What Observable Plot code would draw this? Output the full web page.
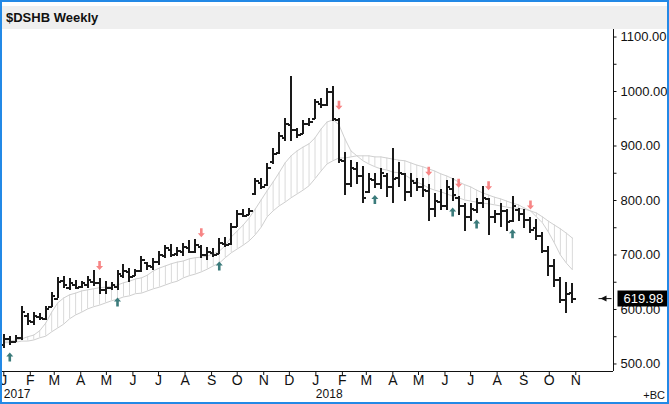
<!DOCTYPE html>
<html><head><meta charset="utf-8">
<script src="https://cdn.jsdelivr.net/npm/d3@7"></script>
<script src="https://cdn.jsdelivr.net/npm/@observablehq/plot@0.6"></script>
<style>
body{margin:0;background:#fff;}
#wrap{position:relative;width:669px;height:404px;overflow:hidden;background:#fff;font-family:"Liberation Sans",Arial,sans-serif;}
#title{position:absolute;left:2px;top:6px;width:665px;height:23px;background:#efefef;font-weight:bold;font-size:13px;line-height:23px;padding-left:4px;box-sizing:border-box;color:#111;}
#chart{position:absolute;left:0;top:29px;}
#bc{position:absolute;right:4px;top:389px;font-size:11px;color:#111;}
#border{position:absolute;left:0;top:0;width:669px;height:404px;border:2px solid #2389e6;box-sizing:border-box;pointer-events:none;}
</style></head><body>
<div id="wrap"><div id="title">$DSHB Weekly</div><div id="chart"></div><div id="bc">+BC</div><div id="border"></div></div>
<script>
const firstWeek = "2017-01-01";
const opens = [535,545,541,547,588,577,586,583,604,620,652,640,645,641,645,650,648,636,640,642,662,668,662,670,685,678,688,698,710,702,706,712,706,715,700,704,702,720,720,752,775,773,812,832,828,870,888,915,938,930,922,940,950,978,975,1000,948,872,830,858,845,815,838,830,845,825,842,848,815,832,825,818,785,798,790,822,805,790,770,782,795,803,770,775,780,762,782,775,765,750,735,708,680,655,618,630];
const highs = [555,551,553,606,592,594,592,606,631,658,661,656,654,652,660,671,657,652,650,671,682,676,674,698,687,693,707,717,720,713,722,726,728,717,713,711,730,733,757,781,783,786,840,840,867,895,924,951,1027,933,946,951,986,988,1006,1010,951,888,874,869,863,850,849,858,849,896,869,850,850,841,840,830,812,821,836,840,808,794,795,803,825,803,781,795,784,808,786,784,768,766,742,715,692,659,649,647];
const lows = [529,533,539,544,571,570,579,579,603,620,638,634,636,639,639,643,628,628,634,634,656,649,660,667,672,671,680,693,695,698,698,702,702,693,689,695,700,713,717,750,768,772,810,820,826,866,885,909,909,913,922,935,948,968,972,945,867,810,823,830,794,812,822,821,805,794,823,799,805,817,805,762,768,781,781,799,772,744,762,777,786,735,757,750,744,759,762,748,740,726,703,661,640,611,592,611];
const closes = [545,540,548,596,578,588,584,600,625,650,645,648,640,648,655,648,635,640,645,665,670,660,670,690,680,688,700,712,700,708,715,705,718,700,705,700,722,718,752,775,772,780,835,825,860,885,918,940,930,920,940,944,980,975,1000,950,875,830,860,845,805,840,830,850,825,840,850,815,835,825,820,785,800,790,825,810,790,770,785,795,805,770,775,780,760,790,775,765,745,735,708,680,655,618,628,619.98];
const fastBand = [542,542,544,546,550,553,561,575,595,612,621,627,630,634,636,638,640,641,643,645,649,652,656,658,663,671,676,680,684,687,689,693,695,696,698,702,707,717,733,744,755,768,784,801,818,834,851,869,882,891,898,904,915,931,944,948,939,913,891,882,873,867,862,858,856,852,851,847,840,834,829,823,819,816,812,808,805,801,799,797,795,794,792,790,788,786,786,784,781,770,759,742,722,700,685,673];
const slowBand = [539,539,540,542,542,544,548,551,559,566,573,583,590,595,601,605,608,612,616,619,623,625,629,630,634,638,641,645,649,652,658,662,665,669,674,680,685,695,704,711,718,726,737,751,770,781,790,797,805,812,819,827,840,854,867,873,878,878,880,882,882,882,880,880,878,876,874,873,869,865,862,858,854,849,845,840,834,829,825,819,814,810,806,803,799,795,792,786,781,777,770,762,755,748,740,731];
const upSignals = [1,19,36,62,75,79,85];
const downSignals = [16,33,56,71,76,81,88];
const yMajor = [500,600,700,800,900,1000,1100];
const yMinor = [550,650,750,850,950,1050];
const yDomain = [486.2, 1113.8];
const monthLetters = "JFMAMJJASOND";

const start = new Date(firstWeek + "T00:00:00Z");
const DAY = 864e5;
const xDomain = [new Date(+start - 1.52*DAY), new Date(+start + 713.1*DAY)];
const xmax = xDomain[1];

const data = closes.map((c, i) => ({
  date: d3.utcWeek.offset(start, i),
  open: opens[i], high: highs[i], low: lows[i], close: c,
  fast: fastBand[i], slow: slowBand[i]
}));
const last = data[data.length - 1];
const months = d3.utcMonth.range(new Date("2017-01-01T00:00:00Z"), new Date("2018-11-02T00:00:00Z"));
const years = [new Date("2017-01-01T00:00:00Z"), new Date("2018-01-01T00:00:00Z")];

const openTick = {draw(c){c.moveTo(-3.5,0);c.lineTo(0,0);}};
const closeTick = {draw(c){c.moveTo(0,0);c.lineTo(3.5,0);}};
const upArrow = {draw(c){c.moveTo(0,-4.5);c.lineTo(3.5,-0.5);c.lineTo(1.3,-0.5);c.lineTo(1.3,4.5);c.lineTo(-1.3,4.5);c.lineTo(-1.3,-0.5);c.lineTo(-3.5,-0.5);c.closePath();}};
const downArrow = {draw(c){c.moveTo(0,4.5);c.lineTo(3.5,0.5);c.lineTo(1.3,0.5);c.lineTo(1.3,-4.5);c.lineTo(-1.3,-4.5);c.lineTo(-1.3,0.5);c.lineTo(-3.5,0.5);c.closePath();}};
const axisTick = {draw(c){c.moveTo(0,0);c.lineTo(3,0);}};
const priceBox = {draw(c){c.rect(4,-8,56,16);}};
const pointerHead = {draw(c){c.moveTo(-13,0);c.lineTo(-7,-3);c.lineTo(-7,3);c.closePath();}};
const pointerLine = {draw(c){c.moveTo(-15,0);c.lineTo(-2,0);}};

const chart = Plot.plot({
  width: 669, height: 375,
  marginTop: 0, marginBottom: 33, marginLeft: 2, marginRight: 56,
  x: {type: "utc", domain: xDomain},
  y: {domain: yDomain},
  style: {fontFamily: "'Liberation Sans', Arial, sans-serif", color: "#111", background: "transparent"},
  marks: [
    Plot.ruleX(data, {x: "date", y1: "fast", y2: "slow", stroke: "#dadada", strokeWidth: 1}),
    Plot.line(data, {x: "date", y: "fast", stroke: "#cfcfcf", strokeWidth: 1}),
    Plot.line(data, {x: "date", y: "slow", stroke: "#cfcfcf", strokeWidth: 1}),
    Plot.ruleX(data, {x: "date", y1: "low", y2: "high", stroke: "#1a1a1a", strokeWidth: 2, shapeRendering: "crispEdges"}),
    Plot.dot(data, {x: "date", y: "open", symbol: openTick, fill: "none", stroke: "#1a1a1a", strokeWidth: 2, shapeRendering: "crispEdges"}),
    Plot.dot(data, {x: "date", y: "close", symbol: closeTick, fill: "none", stroke: "#1a1a1a", strokeWidth: 2, shapeRendering: "crispEdges"}),
    Plot.dot(upSignals.map(i => data[i]), {x: "date", y: "low", symbol: upArrow, fill: "#3b7b7b", stroke: "none", dy: 11}),
    Plot.dot(downSignals.map(i => data[i]), {x: "date", y: "high", symbol: downArrow, fill: "#f78585", stroke: "none", dy: -13}),
    Plot.ruleX([xmax], {stroke: "#111", strokeWidth: 1}),
    Plot.ruleY([yDomain[0]], {stroke: "#111", strokeWidth: 1}),
    Plot.dot(yMajor.concat(yMinor), {x: () => xmax, y: d => d, symbol: axisTick, fill: "none", stroke: "#111", strokeWidth: 1}),
    Plot.axisY({anchor: "right", ticks: yMajor, tickFormat: d3.format(".2f"), tickSize: 0, tickPadding: 7, fontSize: 13, label: null}),
    Plot.axisX({ticks: months, tickFormat: d => monthLetters[d.getUTCMonth()], tickSize: 4, tickPadding: 0, fontSize: 14, label: null}),
    Plot.axisX({ticks: years, tickFormat: d3.utcFormat("%Y"), tickSize: 0, tickPadding: 18, textAnchor: "start", fontSize: 12, label: null}),
    Plot.dot([last], {x: () => xmax, y: "close", symbol: pointerLine, fill: "none", stroke: "#111", strokeWidth: 1}),
    Plot.dot([last], {x: () => xmax, y: "close", symbol: pointerHead, fill: "#111", stroke: "none"}),
    Plot.dot([last], {x: () => xmax, y: "close", symbol: priceBox, fill: "#000", stroke: "none"}),
    Plot.text([last], {x: () => xmax, y: "close", text: d => d3.format(".2f")(d.close), dx: 10, textAnchor: "start", fill: "#fff", fontSize: 13})
  ]
});
document.getElementById("chart").appendChild(chart);
</script>
</body></html>
